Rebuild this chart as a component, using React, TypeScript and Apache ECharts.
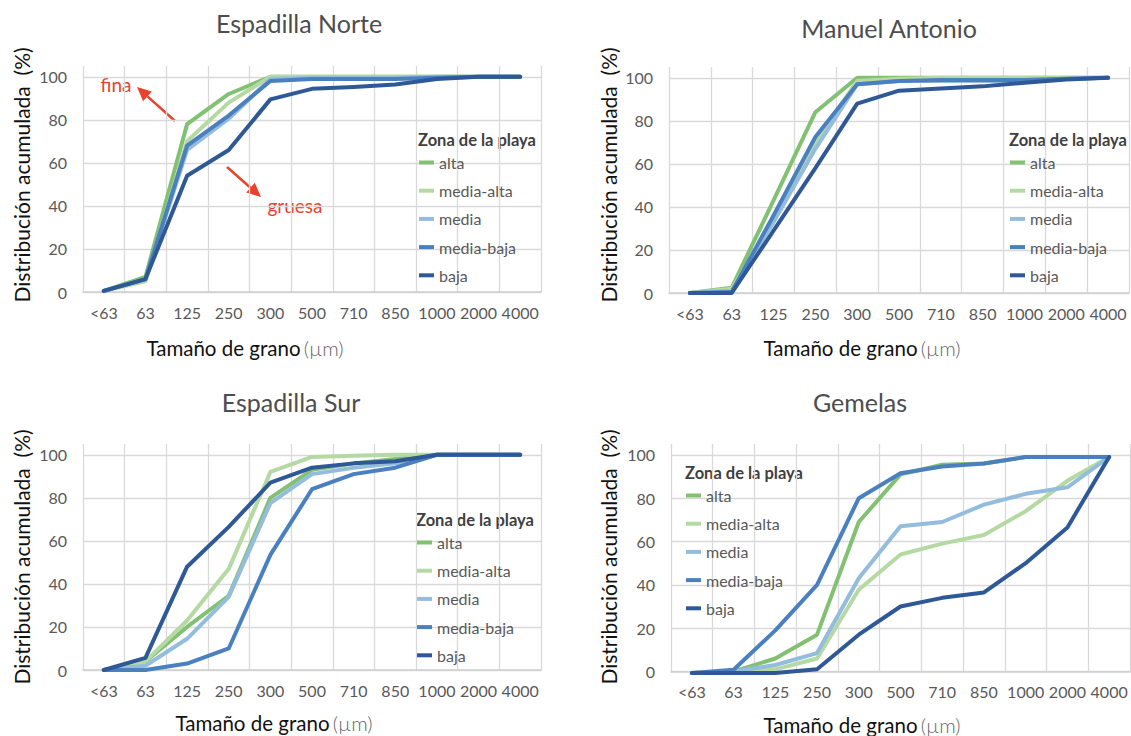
import React, { useEffect, useRef } from "react";
import * as echarts from "echarts";

// ---------- data ----------
const categories = ["<63", "63", "125", "250", "300", "500", "710", "850", "1000", "2000", "4000"];
const zones = ["alta", "media-alta", "media", "media-baja", "baja"];
const panelTitles = ["Espadilla Norte", "Manuel Antonio", "Espadilla Sur", "Gemelas"];
const yTicks = [0, 20, 40, 60, 80, 100];

// Espadilla Norte
const norteAlta = [0.5, 7, 78, 92, 100, 100, 100, 100, 100, 100, 100];
const norteMediaAlta = [0.5, 5, 70, 88, 100, 100, 100, 100, 100, 100, 100];
const norteMedia = [0.5, 6, 66, 80.5, 99, 99.5, 99.5, 99.5, 100, 100, 100];
const norteMediaBaja = [0.5, 6, 68, 82, 98, 99, 99, 99, 99.5, 100, 100];
const norteBaja = [0.5, 6, 54, 66, 89.5, 94.4, 95.3, 96.4, 99, 100, 100];

// Manuel Antonio
const manuelAlta = [0, 2.5, 43, 84, 100, 100, 100, 100, 100, 100, 100];
const manuelMediaAlta = [0, 2, 33, 70, 98.5, 99.5, 100, 100, 100, 100, 100];
const manuelMedia = [0, 1, 33, 67, 97, 98.5, 98.5, 98.5, 98, 99.5, 100];
const manuelMediaBaja = [0, 0.5, 36, 72.5, 97, 98.5, 99, 99, 99, 99.5, 100];
const manuelBaja = [0, 0, 29, 58, 88, 94, 95, 96, 97.7, 99.2, 100];

// Espadilla Sur
const surAlta = [0, 4, 20, 34.5, 80, 93, 96, 98, 100, 100, 100];
const surMediaAlta = [0, 4, 23, 47, 92, 99, 99.5, 100, 100, 100, 100];
const surMedia = [0, 2, 14.5, 34, 77.5, 91, 94, 96, 100, 100, 100];
const surMediaBaja = [0, 0, 3, 10, 53.5, 84, 91, 94, 100, 100, 100];
const surBaja = [0, 5.6, 48, 66.5, 87, 94, 96, 97, 100, 100, 100];

// Gemelas
const gemelasAlta = [-0.7, 0, 6, 17, 69, 91, 95.4, 96, 99, 99, 99];
const gemelasMediaAlta = [-0.7, 0, 1, 6, 37.7, 54, 59, 63, 74, 88, 99];
const gemelasMedia = [-0.7, 0, 3, 8.5, 43, 67, 69, 77, 82, 85, 99];
const gemelasMediaBaja = [-0.7, 0.8, 19, 40, 80, 91.5, 94.6, 96, 99, 99, 99];
const gemelasBaja = [-0.7, -0.7, -0.7, 1, 17, 30, 34, 36.5, 50, 66.5, 99];

const panelData = [
  [norteAlta, norteMediaAlta, norteMedia, norteMediaBaja, norteBaja],
  [manuelAlta, manuelMediaAlta, manuelMedia, manuelMediaBaja, manuelBaja],
  [surAlta, surMediaAlta, surMedia, surMediaBaja, surBaja],
  [gemelasAlta, gemelasMediaAlta, gemelasMedia, gemelasMediaBaja, gemelasBaja],
];

// ---------- styling / layout ----------
const zoneColors = ["#82c072", "#b5d9a3", "#94bcdd", "#4a80bf", "#2e5896"];
const FONT = "Lato, 'Open Sans', sans-serif";
const GRID_COLOR = "#d9d9d9";
const TICK_COLOR = "#595959";

const grids = [
  { left: 83, top: 66, width: 458, height: 226 },
  { left: 669, top: 67, width: 460, height: 226 },
  { left: 83, top: 444, width: 458, height: 226 },
  { left: 671, top: 444, width: 459, height: 227.5 },
];
const titlePos = [
  [299, 23],
  [889, 28],
  [291, 402],
  [860, 402],
];
const yNamePos = [
  [21, 175],
  [608, 175],
  [21, 557],
  [608, 557],
];
const xNamePos = [
  [245, 348],
  [862, 348],
  [274, 723],
  [862, 725],
];
const legendHeaderPos = [
  [418, 140],
  [1009, 140],
  [416, 520],
  [685, 473],
];
const legendPos = [
  [419, 164],
  [1010, 164],
  [417, 544],
  [686, 497],
];

function arrow(x1: number, y1: number, x2: number, y2: number, color: string) {
  const ang = Math.atan2(y2 - y1, x2 - x1);
  const hl = 14;
  const hw = 6.5;
  const bx = x2 - hl * Math.cos(ang);
  const by = y2 - hl * Math.sin(ang);
  const px = -Math.sin(ang);
  const py = Math.cos(ang);
  return [
    {
      type: "line",
      shape: { x1, y1, x2: bx, y2: by },
      style: { stroke: color, lineWidth: 2.5 },
    },
    {
      type: "polygon",
      shape: {
        points: [
          [x2, y2],
          [bx + px * hw, by + py * hw],
          [bx - px * hw, by - py * hw],
        ],
      },
      style: { fill: color },
    },
  ];
}

export default function App() {
  const ref = useRef<HTMLDivElement>(null);

  useEffect(() => {
    if (!ref.current) return;
    const chart = echarts.init(ref.current, undefined, { renderer: "svg" });

    const series: any[] = [];
    panelData.forEach((sets, p) => {
      sets.forEach((vals, i) => {
        series.push({
          type: "line",
          name: zones[i],
          xAxisIndex: p,
          yAxisIndex: p,
          data: vals,
          showSymbol: false,
          symbol: "none",
          clip: false,
          z: 2 + i,
          color: zoneColors[i],
          lineStyle: { width: 4, color: zoneColors[i], cap: "round", join: "round" },
          emphasis: { disabled: true },
        });
      });
    });

    const center = { textAlign: "center", textVerticalAlign: "middle", align: "center", verticalAlign: "middle" };

    const graphics: any[] = [];
    panelTitles.forEach((t, p) => {
      graphics.push({
        type: "text",
        x: titlePos[p][0],
        y: titlePos[p][1],
        style: { text: t, fill: "#4d4d4d", font: `25px ${FONT}`, ...center },
      });
      graphics.push({
        type: "text",
        x: yNamePos[p][0],
        y: yNamePos[p][1],
        rotation: Math.PI / 2,
        style: { text: "Distribución acumulada  (%)", fill: "#111111", font: `21px ${FONT}`, ...center },
      });
      graphics.push({
        type: "text",
        x: xNamePos[p][0],
        y: xNamePos[p][1],
        style: {
          text: "{a|Tamaño de grano} {b|(µm)}",
          ...center,
          rich: {
            a: { fontSize: 20.5, fontFamily: FONT, fill: "#111111", color: "#111111" },
            b: { fontSize: 20.5, fontFamily: FONT, fontWeight: 300, fill: "#666666", color: "#666666" },
          },
        },
      });
      graphics.push({
        type: "text",
        x: legendHeaderPos[p][0],
        y: legendHeaderPos[p][1],
        style: {
          text: "Zona de la playa",
          fill: "#404040",
          font: `bold 16.5px ${FONT}`,
          textAlign: "left",
          textVerticalAlign: "middle",
          align: "left",
          verticalAlign: "middle",
        },
      });
    });

    // annotations on Espadilla Norte
    const red = "#e8412c";
    graphics.push({ type: "text", x: 116, y: 84, style: { text: "fina", fill: red, font: `19px ${FONT}`, ...center } });
    graphics.push({ type: "text", x: 295, y: 205, style: { text: "gruesa", fill: red, font: `19px ${FONT}`, ...center } });
    graphics.push(...arrow(175, 121, 137, 87, red));
    graphics.push(...arrow(227, 167, 261, 197, red));

    const option: any = {
      animation: false,
      backgroundColor: "#ffffff",
      textStyle: { fontFamily: FONT },
      grid: grids.map((g) => ({ ...g, containLabel: false })),
      xAxis: grids.map((_, p) => ({
        type: "category",
        gridIndex: p,
        data: categories,
        boundaryGap: true,
        axisTick: { show: false },
        axisLine: { show: true, lineStyle: { color: "#cfcfcf", width: 1.5 } },
        axisLabel: { interval: 0, color: TICK_COLOR, fontSize: 16, margin: 12, fontFamily: FONT },
        splitLine: { show: true, interval: 0, lineStyle: { color: GRID_COLOR, width: 1.3 } },
      })),
      yAxis: grids.map((_, p) => ({
        type: "value",
        gridIndex: p,
        min: 0,
        max: 105,
        interval: 20,
        axisLine: { show: false },
        axisTick: { show: false },
        axisLabel: {
          color: TICK_COLOR,
          fontSize: 16,
          margin: 16,
          fontFamily: FONT,
          showMaxLabel: false,
          formatter: (v: number) => (yTicks.includes(v) ? String(v) : ""),
        },
        splitLine: { show: true, showMaxLine: false, lineStyle: { color: GRID_COLOR, width: 1.3 } },
      })),
      legend: legendPos.map((pos) => ({
        orient: "vertical",
        left: pos[0],
        top: pos[1] - 9.5,
        padding: 0,
        itemGap: 12.2,
        itemWidth: 15,
        itemHeight: 4,
        icon: "rect",
        data: zones,
        selectedMode: false,
        textStyle: { color: TICK_COLOR, fontSize: 16, fontFamily: FONT },
      })),
      graphic: { elements: graphics },
      series,
    };

    chart.setOption(option);
    return () => chart.dispose();
  }, []);

  return (
    <div
      ref={ref}
      style={{ position: "fixed", left: 0, top: 0, width: 1131, height: 736, background: "#fff" }}
    />
  );
}
